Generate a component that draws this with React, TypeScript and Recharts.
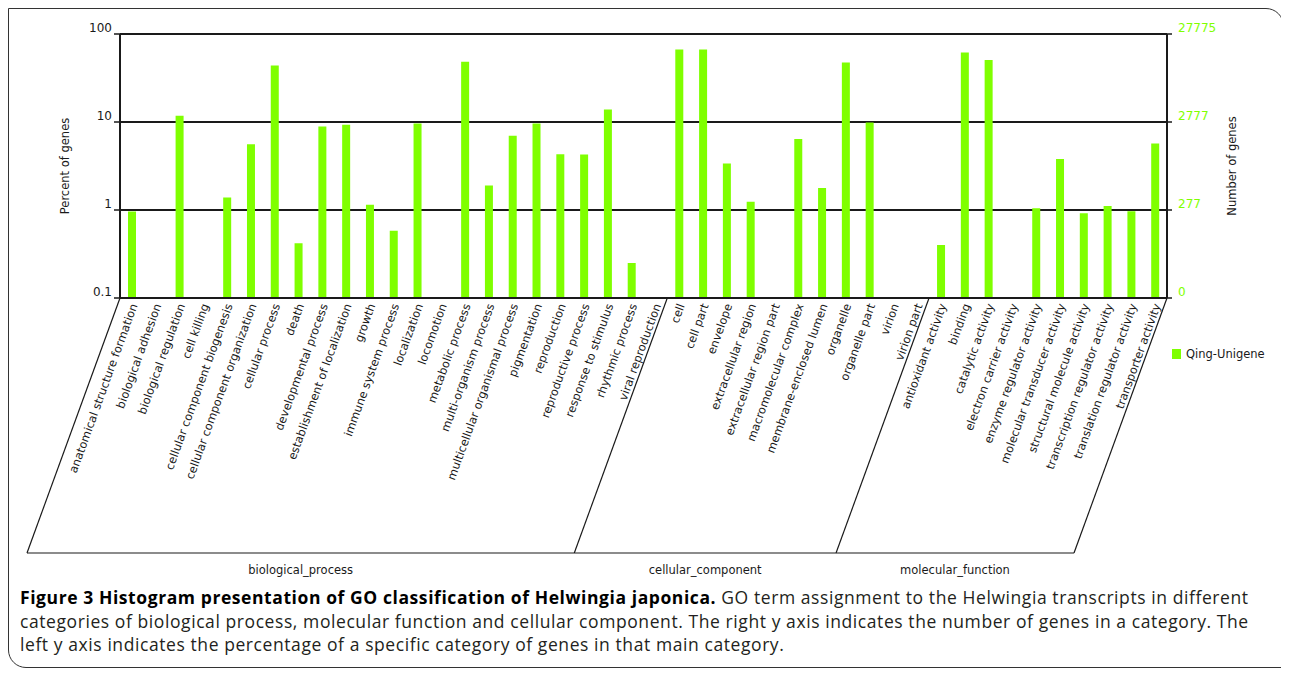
import { BarChart, Bar, XAxis, YAxis, CartesianGrid, Legend } from "recharts";

// GO terms, in the order they appear along the x axis
const CATEGORIES = [
  "anatomical structure formation",
  "biological adhesion",
  "biological regulation",
  "cell killing",
  "cellular component biogenesis",
  "cellular component organization",
  "cellular process",
  "death",
  "developmental process",
  "establishment of localization",
  "growth",
  "immune system process",
  "localization",
  "locomotion",
  "metabolic process",
  "multi-organism process",
  "multicellular organismal process",
  "pigmentation",
  "reproduction",
  "reproductive process",
  "response to stimulus",
  "rhythmic process",
  "viral reproduction",
  "cell",
  "cell part",
  "envelope",
  "extracellular region",
  "extracellular region part",
  "macromolecular complex",
  "membrane-enclosed lumen",
  "organelle",
  "organelle part",
  "virion",
  "virion part",
  "antioxidant activity",
  "binding",
  "catalytic activity",
  "electron carrier activity",
  "enzyme regulator activity",
  "molecular transducer activity",
  "structural molecule activity",
  "transcription regulator activity",
  "translation regulator activity",
  "transporter activity",
];

const GROUP_NAMES = ["biological_process", "cellular_component", "molecular_function"];
const GROUP_SIZES = [23, 11, 10];

// percent of genes (null = no bar drawn)
const PERCENT: (number | null)[] = [
  0.96, null, 11.8, null, 1.39, 5.6, 44, 0.42, 8.9, 9.3, 1.15, 0.58, 9.6, null,
  48.5, 1.9, 7.0, 9.6, 4.3, 4.26, 13.9, 0.25, null,
  66.5, 66.5, 3.37, 1.24, null, 6.4, 1.78, 47.3, 9.9, null, null,
  0.4, 61.5, 50.7, null, 1.05, 3.8, 0.92, 1.11, 0.97, 5.7,
];

const LEFT_TICKS = [0.1, 1, 10, 100];
const LEFT_TICK_LABELS = ["0.1", "1", "10", "100"];
const RIGHT_TICK_LABELS = ["0", "277", "2777", "27775"];
const SERIES_NAME = "Qing-Unigene";

const GREEN = "#7fff00";
const INK = "#1a1a1a";
const LABEL_FONT = "'DejaVu Sans', sans-serif";

const CHART_W = 1274;
const CHART_H = 580;
const MARGIN = { top: 25, right: 0, left: 0, bottom: 0 };
const LEFT_AXIS_W = 111;
const RIGHT_AXIS_W = 116;
const X_AXIS_H = 291;
const STEP = (CHART_W - LEFT_AXIS_W - RIGHT_AXIS_W) / CATEGORIES.length;
// bracket under the category labels
const DROP = 255;
const SLANT = 93;

const GROUP_START = GROUP_SIZES.map((_, g) =>
  GROUP_SIZES.slice(0, g).reduce((a, b) => a + b, 0)
);

const data = CATEGORIES.map((name, i) => ({ name, percent: PERCENT[i] }));

function CategoryTick(props: any) {
  const { x, y, payload } = props;
  const i = CATEGORIES.indexOf(payload.value);
  const g = GROUP_START.indexOf(i);
  const ax = x + 2;
  const ay = y + 6;
  const left = x - STEP / 2;
  return (
    <g>
      <text
        x={ax}
        y={ay}
        dy={4}
        textAnchor="end"
        fontSize={11.5}
        fontFamily={LABEL_FONT}
        fill={INK}
        transform={`rotate(-70, ${ax}, ${ay})`}
      >
        {payload.value}
      </text>
      {g >= 0 && (
        <g stroke={INK} strokeWidth={1.2}>
          <line x1={left} y1={y} x2={left - SLANT} y2={y + DROP} />
          <line
            x1={left - SLANT}
            y1={y + DROP}
            x2={left - SLANT + GROUP_SIZES[g] * STEP}
            y2={y + DROP}
          />
          <text
            x={left - SLANT + (GROUP_SIZES[g] * STEP) / 2}
            y={y + DROP + 21}
            textAnchor="middle"
            fontSize={11.5}
            fontFamily={LABEL_FONT}
            fill={INK}
            stroke="none"
          >
            {GROUP_NAMES[g]}
          </text>
        </g>
      )}
      {i === CATEGORIES.length - 1 && (
        <line
          x1={x + STEP / 2}
          y1={y}
          x2={x + STEP / 2 - SLANT}
          y2={y + DROP}
          stroke={INK}
          strokeWidth={1.2}
        />
      )}
    </g>
  );
}

function LeftTick(props: any) {
  const { x, y, payload } = props;
  return (
    <text x={x} y={y - 2} textAnchor="end" fontSize={12} fontFamily={LABEL_FONT} fill={INK}>
      {LEFT_TICK_LABELS[LEFT_TICKS.indexOf(payload.value)]}
    </text>
  );
}

function RightTick(props: any) {
  const { x, y, payload } = props;
  return (
    <text x={x} y={y - 2} textAnchor="start" fontSize={12} fontFamily={LABEL_FONT} fill={GREEN}>
      {RIGHT_TICK_LABELS[LEFT_TICKS.indexOf(payload.value)]}
    </text>
  );
}

function axisTitle(text: string, dx: number) {
  return (props: any) => {
    const vb = props.viewBox;
    const cx = vb.x + dx;
    const cy = vb.y + vb.height / 2;
    return (
      <text
        x={cx}
        y={cy}
        textAnchor="middle"
        dominantBaseline="central"
        fontSize={11.5}
        fontFamily={LABEL_FONT}
        fill={INK}
        transform={`rotate(-90, ${cx}, ${cy})`}
      >
        {text}
      </text>
    );
  };
}

function LegendBox(props: any) {
  const item = props.payload?.[0];
  return (
    <div style={{ display: "flex", alignItems: "center", fontFamily: LABEL_FONT, fontSize: 11.5, color: INK }}>
      <span style={{ width: 9, height: 10, background: GREEN, marginRight: 5, display: "inline-block" }} />
      {item ? item.value : SERIES_NAME}
    </div>
  );
}

export default function App() {
  return (
    <div
      style={{
        position: "relative",
        width: CHART_W,
        height: 658,
        border: "1px solid #333",
        borderRadius: "0 18px 0 18px",
        background: "#fff",
      }}
    >
      <BarChart width={CHART_W} height={CHART_H} data={data} margin={MARGIN}>
        <CartesianGrid
          yAxisId="left"
          vertical={false}
          stroke={INK}
          strokeWidth={2}
          horizontalValues={LEFT_TICKS}
        />
        <XAxis
          dataKey="name"
          interval={0}
          height={X_AXIS_H}
          tickSize={0}
          tickMargin={0}
          tick={<CategoryTick />}
          axisLine={{ stroke: INK, strokeWidth: 2 }}
          tickLine={false}
        />
        <YAxis
          yAxisId="left"
          scale="log"
          domain={[0.1, 100]}
          allowDataOverflow
          ticks={LEFT_TICKS}
          width={LEFT_AXIS_W}
          tickSize={6}
          tickMargin={2}
          tick={<LeftTick />}
          axisLine={{ stroke: INK, strokeWidth: 2 }}
          tickLine={{ stroke: INK, strokeWidth: 1.5 }}
          label={axisTitle("Percent of genes", 56)}
        />
        <YAxis
          yAxisId="right"
          orientation="right"
          scale="log"
          domain={[0.1, 100]}
          allowDataOverflow
          ticks={LEFT_TICKS}
          width={RIGHT_AXIS_W}
          tickSize={5}
          tickMargin={6}
          tick={<RightTick />}
          axisLine={{ stroke: INK, strokeWidth: 2 }}
          tickLine={{ stroke: INK, strokeWidth: 1.5 }}
          label={axisTitle("Number of genes", 65)}
        />
        <Legend
          layout="horizontal"
          verticalAlign="middle"
          align="center"
          content={<LegendBox />}
          wrapperStyle={{ left: 1163, top: 338, width: "auto" }}
        />
        <Bar
          yAxisId="left"
          dataKey="percent"
          name={SERIES_NAME}
          fill={GREEN}
          barSize={8}
          isAnimationActive={false}
        />
      </BarChart>
      <div
        style={{
          position: "absolute",
          left: 11,
          top: 577,
          fontFamily: "'Open Sans', sans-serif",
          fontSize: 17.5,
          letterSpacing: 0.58,
          lineHeight: "23.5px",
          color: "#231f20",
          whiteSpace: "nowrap",
        }}
      >
        <b style={{ color: "#000" }}>
          Figure 3 Histogram presentation of GO classification of Helwingia japonica.
        </b>{" "}
        GO term assignment to the Helwingia transcripts in different
        <br />
        categories of biological process, molecular function and cellular component. The right y axis indicates the number of genes in a category. The
        <br />
        left y axis indicates the percentage of a specific category of genes in that main category.
      </div>
    </div>
  );
}
